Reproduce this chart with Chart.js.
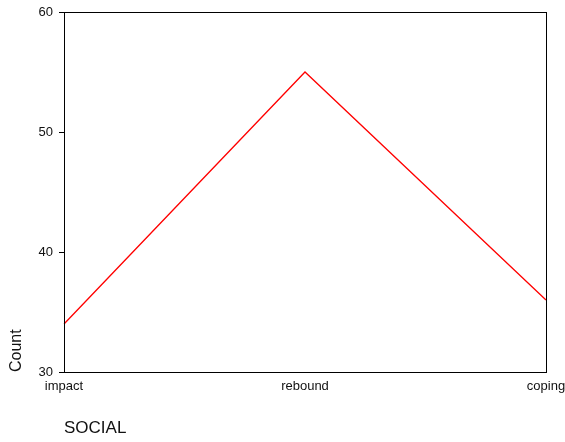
<!DOCTYPE html>
<html>
<head>
<meta charset="utf-8">
<script src="https://cdn.jsdelivr.net/npm/chart.js@4/dist/chart.umd.min.js"></script>
<style>
  html, body { margin: 0; padding: 0; background: #fff; }
  #wrap { width: 565px; height: 442px; }
</style>
</head>
<body>
<div id="wrap"><canvas id="chart" width="565" height="442"></canvas></div>
<script>
// Données
const categories = ['impact', 'rebound', 'coping'];
const counts = [34, 55, 36];
const yTicks = [30, 40, 50, 60];

// cadre autour de la zone du graphique
const frame = {
    id: 'frame',
    afterDatasetsDraw(chart) {
        const a = chart.chartArea;
        const ctx = chart.ctx;
        ctx.save();
        ctx.strokeStyle = '#000';
        ctx.lineWidth = 1;
        ctx.strokeRect(a.left + 0.5, a.top + 0.5, a.right - a.left, a.bottom - a.top);
        ctx.restore();
    }
};

new Chart(document.getElementById('chart'), {
    type: 'line',
    data: {
        labels: categories,
        datasets: [{
            label: 'Count',
            data: counts,
            borderColor: '#ff0000',
            borderWidth: 1.3,
            pointRadius: 0,
            tension: 0,
            fill: false
        }]
    },
    options: {
        responsive: false,
        animation: false,
        layout: { padding: { left: 0, top: 12, right: 19, bottom: 0 } },
        plugins: { legend: { display: false }, tooltip: { enabled: false } },
        scales: {
            x: {
                offset: false,
                grid: { display: true, drawOnChartArea: false, drawTicks: false, tickLength: 0 },
                border: { display: true, color: '#000' },
                ticks: { color: '#111', padding: 7, maxRotation: 0, font: { family: 'Liberation Sans', size: 13 } },
                title: {
                    display: true, text: 'SOCIAL', align: 'start', color: '#111',
                    padding: { top: 0, bottom: 3 },
                    font: { family: 'Liberation Sans', size: 17 }
                },
                afterFit(scale) {
                    scale.height = 70;
                    scale.paddingLeft = 0;
                    scale.paddingRight = 0;
                }
            },
            y: {
                min: 30,
                max: 60,
                afterBuildTicks(scale) {
                    scale.ticks = yTicks.map(v => ({ value: v }));
                },
                grid: { drawOnChartArea: false, drawTicks: true, tickLength: 5, color: '#000' },
                border: { display: true, color: '#000' },
                ticks: { color: '#111', padding: 6, font: { family: 'Liberation Sans', size: 13 } },
                title: {
                    display: true, text: 'Count', align: 'start', color: '#111',
                    padding: { top: 7, bottom: 0 },
                    font: { family: 'Liberation Sans', size: 16 }
                },
                afterFit(scale) {
                    scale.width = 64;
                    scale.paddingTop = 0;
                    scale.paddingBottom = 0;
                }
            }
        }
    },
    plugins: [frame]
});
</script>
</body>
</html>
